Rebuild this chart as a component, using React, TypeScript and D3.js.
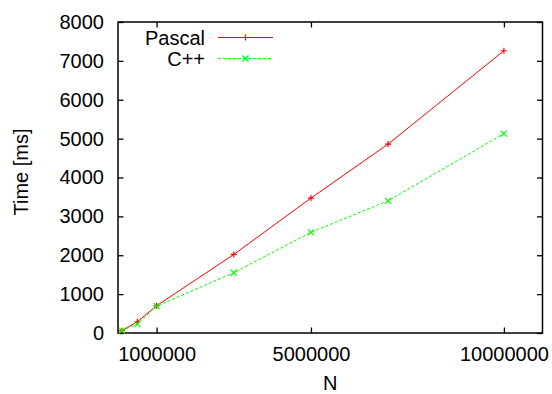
import React, { useEffect, useRef } from "react";
import * as d3 from "d3";

const sizes = [100000, 500000, 1000000, 3000000, 5000000, 7000000, 10000000];
const pascalMs = [60, 290, 700, 2020, 3470, 4860, 7260];
const cppMs = [60, 230, 690, 1550, 2590, 3400, 5130];

const xTicks = [1000000, 5000000, 10000000];
const yTicks = [0, 1000, 2000, 3000, 4000, 5000, 6000, 7000, 8000];

const series = [
  { name: "Pascal", values: pascalMs, color: "#ff0000", dash: null, marker: "plus" },
  { name: "C++", values: cppMs, color: "#00ff00", dash: "3,2", marker: "cross" },
];

const App = () => {
  const ref = useRef<SVGSVGElement>(null);

  useEffect(() => {
    if (!ref.current) return;
    const width = 552;
    const height = 394;
    const m = { left: 118, right: 9.5, top: 22, bottom: 61 };
    const font = "'Liberation Sans', Arial, Helvetica, sans-serif";

    const x = d3.scaleLinear().domain([0, 11000000]).range([m.left, width - m.right]);
    const y = d3.scaleLinear().domain([0, 8000]).range([height - m.bottom, m.top]);

    const svg = d3.select(ref.current);
    svg.selectAll("*").remove();
    svg.style("font-family", font).style("font-size", "20px");

    const tick = 5.5;
    // bottom + top axes (inward ticks, gnuplot style)
    const gx = svg.append("g").attr("transform", `translate(0,${y(0)})`)
      .call(d3.axisBottom(x).tickValues(xTicks).tickSizeInner(-tick).tickSizeOuter(0).tickPadding(14).tickFormat(d3.format("d")));
    gx.selectAll("text").attr("fill", "#000").style("font-size", "20px").style("font-family", font);
    svg.append("g").attr("transform", `translate(0,${y(8000)})`)
      .call(d3.axisTop(x).tickValues(xTicks).tickSizeInner(-tick).tickSizeOuter(0).tickFormat(() => ""));

    const gy = svg.append("g").attr("transform", `translate(${x(0)},0)`)
      .call(d3.axisLeft(y).tickValues(yTicks).tickSizeInner(-tick).tickSizeOuter(0).tickPadding(14).tickFormat(d3.format("d")));
    gy.selectAll("text").attr("fill", "#000").style("font-size", "20px").style("font-family", font);
    svg.append("g").attr("transform", `translate(${x(11000000)},0)`)
      .call(d3.axisRight(y).tickValues(yTicks).tickSizeInner(-tick).tickSizeOuter(0).tickFormat(() => ""));

    svg.selectAll(".domain").remove();
    svg.selectAll(".tick line").attr("stroke", "#000").attr("stroke-width", 1.3);

    // border
    svg.append("rect")
      .attr("x", x(0)).attr("y", y(8000))
      .attr("width", x(11000000) - x(0)).attr("height", y(0) - y(8000))
      .attr("fill", "none").attr("stroke", "#000").attr("stroke-width", 1.5);

    const line = d3.line<number>().x((_, i) => x(sizes[i])).y((d) => y(d));
    const drawMarker = (g: any, cx: number, cy: number, kind: string, color: string) => {
      const s = 3;
      const p = kind === "plus"
        ? `M${cx - s},${cy}H${cx + s}M${cx},${cy - s}V${cy + s}`
        : `M${cx - s},${cy - s}L${cx + s},${cy + s}M${cx - s},${cy + s}L${cx + s},${cy - s}`;
      g.append("path").attr("d", p).attr("stroke", color).attr("stroke-width", 1.2).attr("fill", "none");
    };

    series.forEach((s) => {
      const g = svg.append("g");
      g.append("path")
        .attr("d", line(s.values))
        .attr("fill", "none")
        .attr("stroke", s.color)
        .attr("stroke-width", 1)
        .attr("stroke-dasharray", s.dash);
      s.values.forEach((v, i) => drawMarker(g, x(sizes[i]), y(v), s.marker, s.color));
    });

    // legend
    const leg = svg.append("g");
    series.forEach((s, i) => {
      const ly = 37.5 + i * 21;
      leg.append("text").attr("x", 205).attr("y", ly + 7).attr("text-anchor", "end").text(s.name);
      leg.append("line").attr("x1", 218).attr("x2", 273).attr("y1", ly).attr("y2", ly)
        .attr("stroke", s.color).attr("stroke-width", 1).attr("stroke-dasharray", s.dash);
      drawMarker(leg, 245.5, ly, s.marker, s.color);
    });

    // axis titles
    svg.append("text").attr("x", (x(0) + x(11000000)) / 2).attr("y", 390)
      .attr("text-anchor", "middle").text("N");
    svg.append("text")
      .attr("transform", `translate(28,172) rotate(-90)`)
      .attr("text-anchor", "middle").text("Time [ms]");
  }, []);

  return (
    <svg
      ref={ref}
      width={552}
      height={394}
      style={{ position: "absolute", left: 0, top: 0, background: "#fff" }}
    />
  );
};

export default App;
